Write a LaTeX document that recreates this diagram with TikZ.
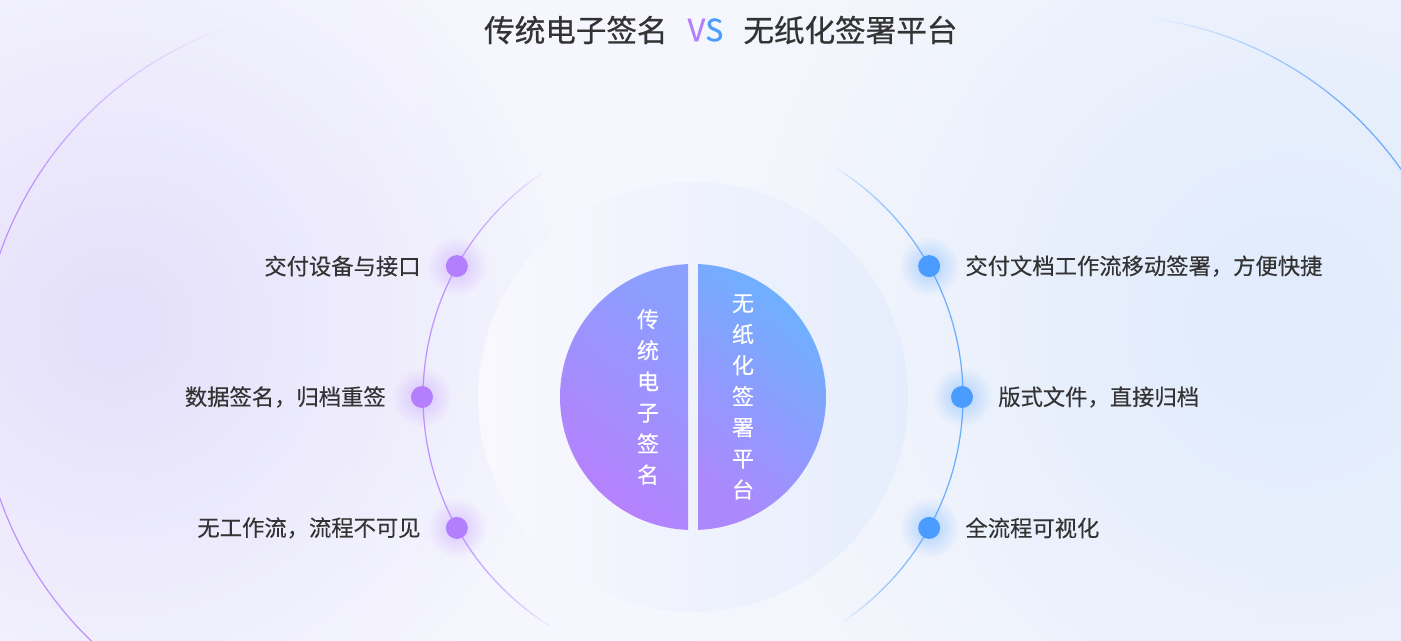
\documentclass[tikz,border=0pt]{standalone}
\usepackage{fontspec}
\setmainfont{Noto Sans CJK SC}
\newfontfamily\medfont[FakeBold=0.6]{Noto Sans CJK SC}
\newfontfamily\itemfont[FakeBold=0.25]{Noto Sans CJK SC}
\usetikzlibrary{calc, positioning, fadings}
\definecolor{bgleft}{HTML}{F7F7FE}
\definecolor{bgright}{HTML}{F2F5FD}
\definecolor{glowpurple}{HTML}{E4DFFB}
\definecolor{glowblue}{HTML}{E0EBFC}
\definecolor{diskleft}{HTML}{F9F8FE}
\definecolor{diskright}{HTML}{E5EDFC}
\definecolor{dotpurple}{HTML}{B47FFD}
\definecolor{dotblue}{HTML}{4A9DFF}
\definecolor{ringpurple}{HTML}{BF93FF}
\definecolor{ringblue}{HTML}{6AACFF}
\definecolor{halfpurple}{HTML}{B97FFD}
\definecolor{halfpurplemid}{HTML}{B483FD}
\definecolor{halfmid}{HTML}{AC88FD}
\definecolor{halfbluemid}{HTML}{72ADFF}
\definecolor{halfblue}{HTML}{6AB3FF}
\definecolor{halfbluish}{HTML}{8A9FFE}
\definecolor{textgray}{HTML}{333333}
\tikzfading[name=glowfade, inner color=transparent!0, outer color=transparent!100]

\begin{document}
\begin{tikzpicture}[x=0.02cm, y=0.02cm,
    dotP/.style={circle, fill=dotpurple, minimum size=12.5pt, inner sep=0},
    dotB/.style={circle, fill=dotblue, minimum size=12.5pt, inner sep=0},
    itemtext/.style={text=textgray, font=\itemfont\fontsize{12.7}{15}\selectfont, inner sep=0},
    titletext/.style={text=textgray, font=\medfont\fontsize{17.4}{20}\selectfont, inner sep=0},
    vtext/.style={text=white, font=\itemfont\fontsize{12.5}{17.7}\selectfont, align=center, inner sep=0}]

    % Background
    \useasboundingbox (0,0) rectangle (1401,640);
    \clip (0,0) rectangle (1401,640);
    \shade[left color=bgleft, right color=bgright] (0,0) rectangle (1401,640);
    \fill[glowpurple, path fading=glowfade] (115,315) circle[radius=460];
    \fill[glowblue, path fading=glowfade] (1290,320) circle[radius=540];

    % Outer arcs
    \foreach \a in {108,110,...,228} {
        \pgfmathsetmacro{\op}{min(1, (\a-108)/40)}
        \draw[ringpurple, line width=0.7pt, opacity=\op] ($(348,264)+(\a:369)$) arc[start angle=\a, end angle=\a+2, radius=369];
    }
    \foreach \a in {84,82,...,30} {
        \pgfmathsetmacro{\op}{min(1, (84-\a)/36)}
        \draw[ringblue, line width=0.7pt, opacity=\op] ($(1103,260)+(\a:365)$) arc[start angle=\a, end angle=\a-2, radius=365];
    }

    % Centre disk
    \coordinate (C) at (693,243);
    \shade[left color=diskleft, right color=diskright] (C) circle[radius=215];

    % Middle ring
    \foreach \a in {120,122,...,244} {
        \pgfmathsetmacro{\op}{max(0, 1-(abs(\a-180)/58)^4)}
        \draw[ringpurple, line width=0.7pt, opacity=\op] ($(C)+(\a:270)$) arc[start angle=\a, end angle=\a+2, radius=270];
    }
    \foreach \a in {-64,-62,...,60} {
        \pgfmathsetmacro{\op}{max(0, 1-(abs(\a)/58)^4)}
        \draw[ringblue, line width=0.7pt, opacity=\op] ($(C)+(\a:270)$) arc[start angle=\a, end angle=\a+2, radius=270];
    }

    % Split circle
    \shade[top color=halfbluish, middle color=halfpurplemid, bottom color=halfpurple, shading angle=-40]
        ($(C)+(-5,-132.9)$) -- ($(C)+(-5,132.9)$) arc[start angle=92.16, end angle=267.84, radius=133] -- cycle;
    \shade[top color=halfblue, middle color=halfbluemid, bottom color=halfmid, shading angle=-40]
        ($(C)+(5,132.9)$) -- ($(C)+(5,-132.9)$) arc[start angle=-87.84, end angle=87.84, radius=133] -- cycle;
    \node[vtext] (oldname) at (648,243) {传\\统\\电\\子\\签\\名};
    \node[vtext] (newname) at (743,243) {无\\纸\\化\\签\\署\\平\\台};

    % Dots on the ring
    \coordinate (p1) at ($(C)+(151:270)$);
    \coordinate (p2) at ($(C)+(180:271)$);
    \coordinate (p3) at ($(C)+(209:270)$);
    \coordinate (q1) at ($(C)+(29:270)$);
    \coordinate (q2) at ($(C)+(0:269)$);
    \coordinate (q3) at ($(C)+(-29:270)$);
    \foreach \p in {p1,p2,p3}
        \fill[dotpurple, opacity=0.4, path fading=glowfade] (\p) circle[radius=30];
    \foreach \q in {q1,q2,q3}
        \fill[dotblue, opacity=0.4, path fading=glowfade] (\q) circle[radius=30];
    \node[dotP] (l1) at (p1) {};
    \node[dotP] (l2) at (p2) {};
    \node[dotP] (l3) at (p3) {};
    \node[dotB] (r1) at (q1) {};
    \node[dotB] (r2) at (q2) {};
    \node[dotB] (r3) at (q3) {};

    % Items
    \node[itemtext, left=14pt of l1] (old1) {交付设备与接口};
    \node[itemtext, left=14pt of l2] (old2) {数据签名，归档重签};
    \node[itemtext, left=14pt of l3] (old3) {无工作流，流程不可见};
    \node[itemtext, right=14pt of r1] (new1) {交付文档工作流移动签署，方便快捷};
    \node[itemtext, right=14pt of r2] (new2) {版式文件，直接归档};
    \node[itemtext, right=14pt of r3] (new3) {全流程可视化};

    % Title
    \node[titletext] (vs) at (705.5,610) {\textcolor{dotpurple}{V}\textcolor{dotblue}{S}};
    \node[titletext, left=11pt of vs] (oldtitle) {传统电子签名};
    \node[titletext, right=11pt of vs] (newtitle) {无纸化签署平台};
\end{tikzpicture}
\end{document}
